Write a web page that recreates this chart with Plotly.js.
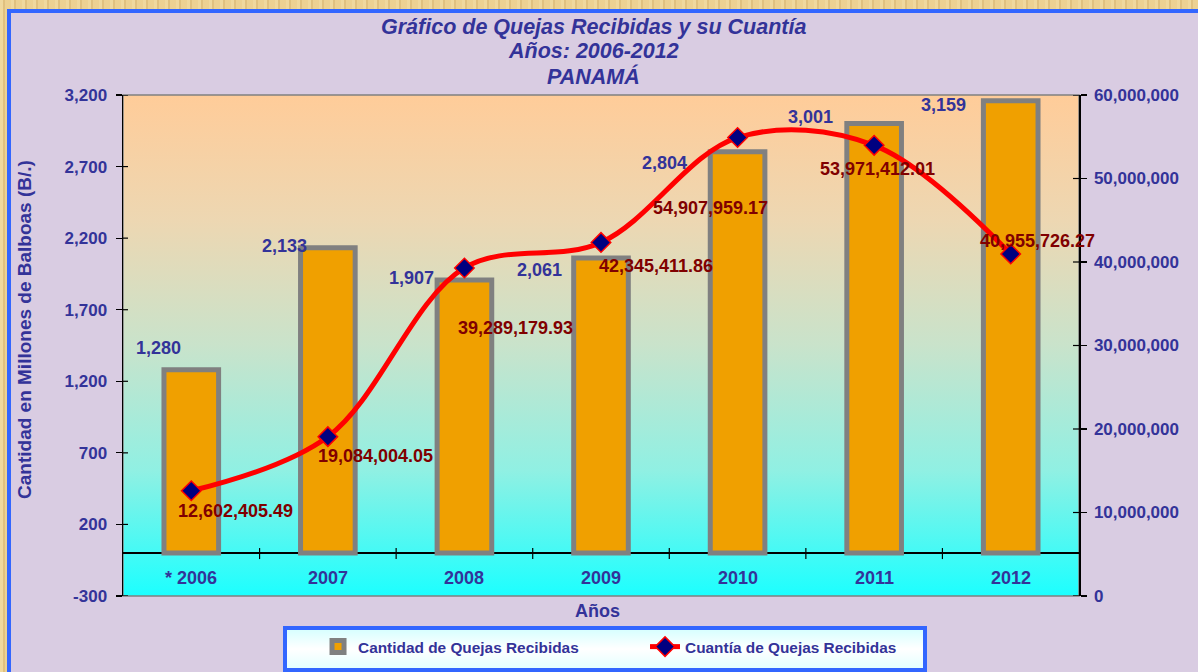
<!DOCTYPE html>
<html>
<head>
<meta charset="utf-8">
<script src="https://cdn.plot.ly/plotly-3.0.1.min.js"></script>
<style>
  html, body { margin:0; padding:0; width:1198px; height:672px; overflow:hidden; }
  body {
    background-color:#E8CC8C;
    background-image: repeating-linear-gradient(90deg, rgba(255,240,190,0.35) 0 3px, rgba(200,160,90,0.25) 3px 5px, rgba(255,230,170,0.2) 5px 11px);
    position:relative;
  }
  #frame { position:absolute; left:7px; top:9px; width:1200px; height:680px; background:#D9CCE2; border:4px solid #3366FF; box-sizing:border-box; }
  #plotbg { position:absolute; left:123px; top:95px; width:956px; height:501px;
    background: linear-gradient(to bottom, #FFCC99 0%, #EDD7B2 25%, #C9E3CB 50%, #90F0E3 75%, #1CFFFF 100%); }
  #legbox { position:absolute; left:283px; top:626px; width:644px; height:46px; box-sizing:border-box;
    border:4px solid #3366FF; background: linear-gradient(to bottom, #D8FFFF 0%, #FFFFFF 50%, #E4FFFF 100%); }
  #chart { position:absolute; left:0; top:0; width:1198px; height:672px; }
</style>
</head>
<body>
<div id="frame"></div>
<div id="plotbg"></div>
<div id="legbox"></div>
<div id="chart"></div>
<script>
// ---- data ----
const titleLines = ['Gráfico de Quejas Recibidas y su Cuantía', 'Años: 2006-2012', 'PANAMÁ'];
const years = ['* 2006', '2007', '2008', '2009', '2010', '2011', '2012'];
const quejas = [1280, 2133, 1907, 2061, 2804, 3001, 3159];
const cuantia = [12602405.49, 19084004.05, 39289179.93, 42345411.86, 54907959.17, 53971412.01, 40955726.27];
const quejasLabels = ['1,280', '2,133', '1,907', '2,061', '2,804', '3,001', '3,159'];
const cuantiaLabels = ['12,602,405.49', '19,084,004.05', '39,289,179.93', '42,345,411.86', '54,907,959.17', '53,971,412.01', '40,955,726.27'];
const leftTickVals = [-300, 200, 700, 1200, 1700, 2200, 2700, 3200];
const leftTickText = ['-300', '200', '700', '1,200', '1,700', '2,200', '2,700', '3,200'];
const rightTickVals = [0, 10000000, 20000000, 30000000, 40000000, 50000000, 60000000];

// label offsets (pixels) relative to their data point
const qOffX = [-33, -43, -53, -62, -73, -64, -67];
const qOffY = [22, 2, 2, -12, -11, 6, -4];
const cOffX = [44, 48, 51, 55, -27, 3, 27];
const cOffY = [-20, -19, -60, -24, -70, -24, 13];

const FONT = '"Liberation Sans", Arial, sans-serif';
const NAVY = '#333399';
const MAROON = '#800000';
const CAT_LABEL_Y = -174;   // vertical spot (left-axis units) for category labels
const TITLE_Y = [1.1357, 1.0878, 1.0379];  // paper positions of the three title lines

const barTrace = {
  type: 'bar', x: years, y: quejas, name: 'Cantidad de Quejas Recibidas',
  marker: { color: '#F0A000', line: { color: '#808080', width: 5 } },
  width: 0.4, xaxis: 'x', yaxis: 'y', hoverinfo: 'skip'
};
const lineTrace = {
  type: 'scatter', mode: 'lines+markers', x: years, y: cuantia, xaxis: 'x', yaxis: 'y2',
  name: 'Cuantía de Quejas Recibidas',
  line: { color: '#FF0000', width: 5, shape: 'spline', smoothing: 1 },
  marker: { symbol: 'diamond', size: 15, color: '#000080', line: { color: '#FF0000', width: 1.5 } },
  hoverinfo: 'skip'
};

const annotations = [];
const shapes = [
  { type: 'rect', xref: 'paper', yref: 'paper', x0: 0, x1: 1, y0: 0, y1: 1,
    line: { color: '#808080', width: 1.5 }, layer: 'below' }
];
titleLines.forEach((t, i) => {
  annotations.push({ xref: 'paper', yref: 'paper', x: 0.4925, y: TITLE_Y[i], xanchor: 'center', yanchor: 'middle',
    showarrow: false, text: t, font: { family: FONT, size: 21.5, color: NAVY, weight: 'bold', style: 'italic' } });
});
years.forEach((yr, i) => {
  annotations.push({ x: i, y: quejas[i], xref: 'x', yref: 'y', text: quejasLabels[i], showarrow: false,
    xanchor: 'center', yanchor: 'middle',
    xshift: qOffX[i], yshift: qOffY[i], font: { family: FONT, size: 18, color: NAVY, weight: 'bold' } });
  annotations.push({ x: i, y: cuantia[i], xref: 'x', yref: 'y2', text: cuantiaLabels[i], showarrow: false,
    xanchor: 'center', yanchor: 'middle',
    xshift: cOffX[i], yshift: cOffY[i], font: { family: FONT, size: 18, color: MAROON, weight: 'bold' } });
  annotations.push({ x: i, y: CAT_LABEL_Y, xref: 'x', yref: 'y', text: yr, showarrow: false,
    xanchor: 'center', yanchor: 'middle', font: { family: FONT, size: 18, color: NAVY, weight: 'bold' } });
  if (i < years.length - 1) {
    shapes.push({ type: 'line', xref: 'x', yref: 'y', x0: i + 0.5, x1: i + 0.5, y0: -42, y1: 35,
      line: { color: '#000000', width: 1.2 } });
  }
});
// inward halves of the axis tick marks (ticks cross the axis lines)
leftTickVals.forEach(v => {
  shapes.push({ type: 'line', xref: 'paper', yref: 'y', x0: 0, x1: 5 / 956, y0: v, y1: v,
    line: { color: '#000000', width: 1.2 } });
});
rightTickVals.forEach(v => {
  shapes.push({ type: 'line', xref: 'paper', yref: 'y2', x0: 1 - 6 / 956, x1: 1, y0: v, y1: v,
    line: { color: '#000000', width: 1.2 } });
});
annotations.push({ xref: 'paper', yref: 'paper', x: -0.1025, y: 0.531, xanchor: 'center', yanchor: 'middle',
  textangle: -90, showarrow: false,
  text: 'Cantidad en Millones de Balboas (B/.)', font: { family: FONT, size: 19, color: NAVY, weight: 'bold' } });
annotations.push({ xref: 'paper', yref: 'paper', x: 0.496, y: -0.030, xanchor: 'center', yanchor: 'middle',
  showarrow: false,
  text: 'Años', font: { family: FONT, size: 18, color: NAVY, weight: 'bold' } });

const layout = {
  width: 1198, height: 672,
  margin: { l: 123, r: 119, t: 95, b: 76, pad: 0, autoexpand: false },
  paper_bgcolor: 'rgba(0,0,0,0)', plot_bgcolor: 'rgba(0,0,0,0)',
  font: { family: FONT, color: NAVY },
  showlegend: true,
  legend: {
    orientation: 'h', x: 0.204, xanchor: 'left', y: -0.102, yanchor: 'middle',
    bgcolor: 'rgba(0,0,0,0)', borderwidth: 0, entrywidth: 282, entrywidthmode: 'pixels',
    font: { family: FONT, size: 15.4, color: NAVY, weight: 'bold' }
  },
  xaxis: {
    type: 'category', range: [-0.5, 6.5], showline: false, showticklabels: false, ticks: '',
    showgrid: false, zeroline: false, fixedrange: true
  },
  yaxis: {
    range: [-300, 3200], tickmode: 'array', tickvals: leftTickVals, ticktext: leftTickText,
    showline: true, linecolor: '#000000', linewidth: 1.5,
    ticks: 'outside', ticklen: 6, tickcolor: '#000000', tickwidth: 1.2, ticklabelstandoff: 5,
    tickfont: { family: FONT, size: 17, color: NAVY, weight: 'bold' },
    showgrid: false, zeroline: true, zerolinecolor: '#000000', zerolinewidth: 1.5, fixedrange: true
  },
  yaxis2: {
    overlaying: 'y', side: 'right', anchor: 'x', range: [0, 60000000],
    tickmode: 'array', tickvals: rightTickVals, tickformat: ',d',
    showline: true, linecolor: '#000000', linewidth: 1.5,
    ticks: 'outside', ticklen: 6, tickcolor: '#000000', tickwidth: 1.2, ticklabelstandoff: 4,
    tickfont: { family: FONT, size: 17, color: NAVY, weight: 'bold' },
    showgrid: false, zeroline: false, fixedrange: true
  },
  shapes: shapes,
  annotations: annotations,
  bargap: 0.6
};

Plotly.newPlot('chart', [barTrace, lineTrace], layout, { staticPlot: true, displayModeBar: false });
</script>
</body>
</html>
